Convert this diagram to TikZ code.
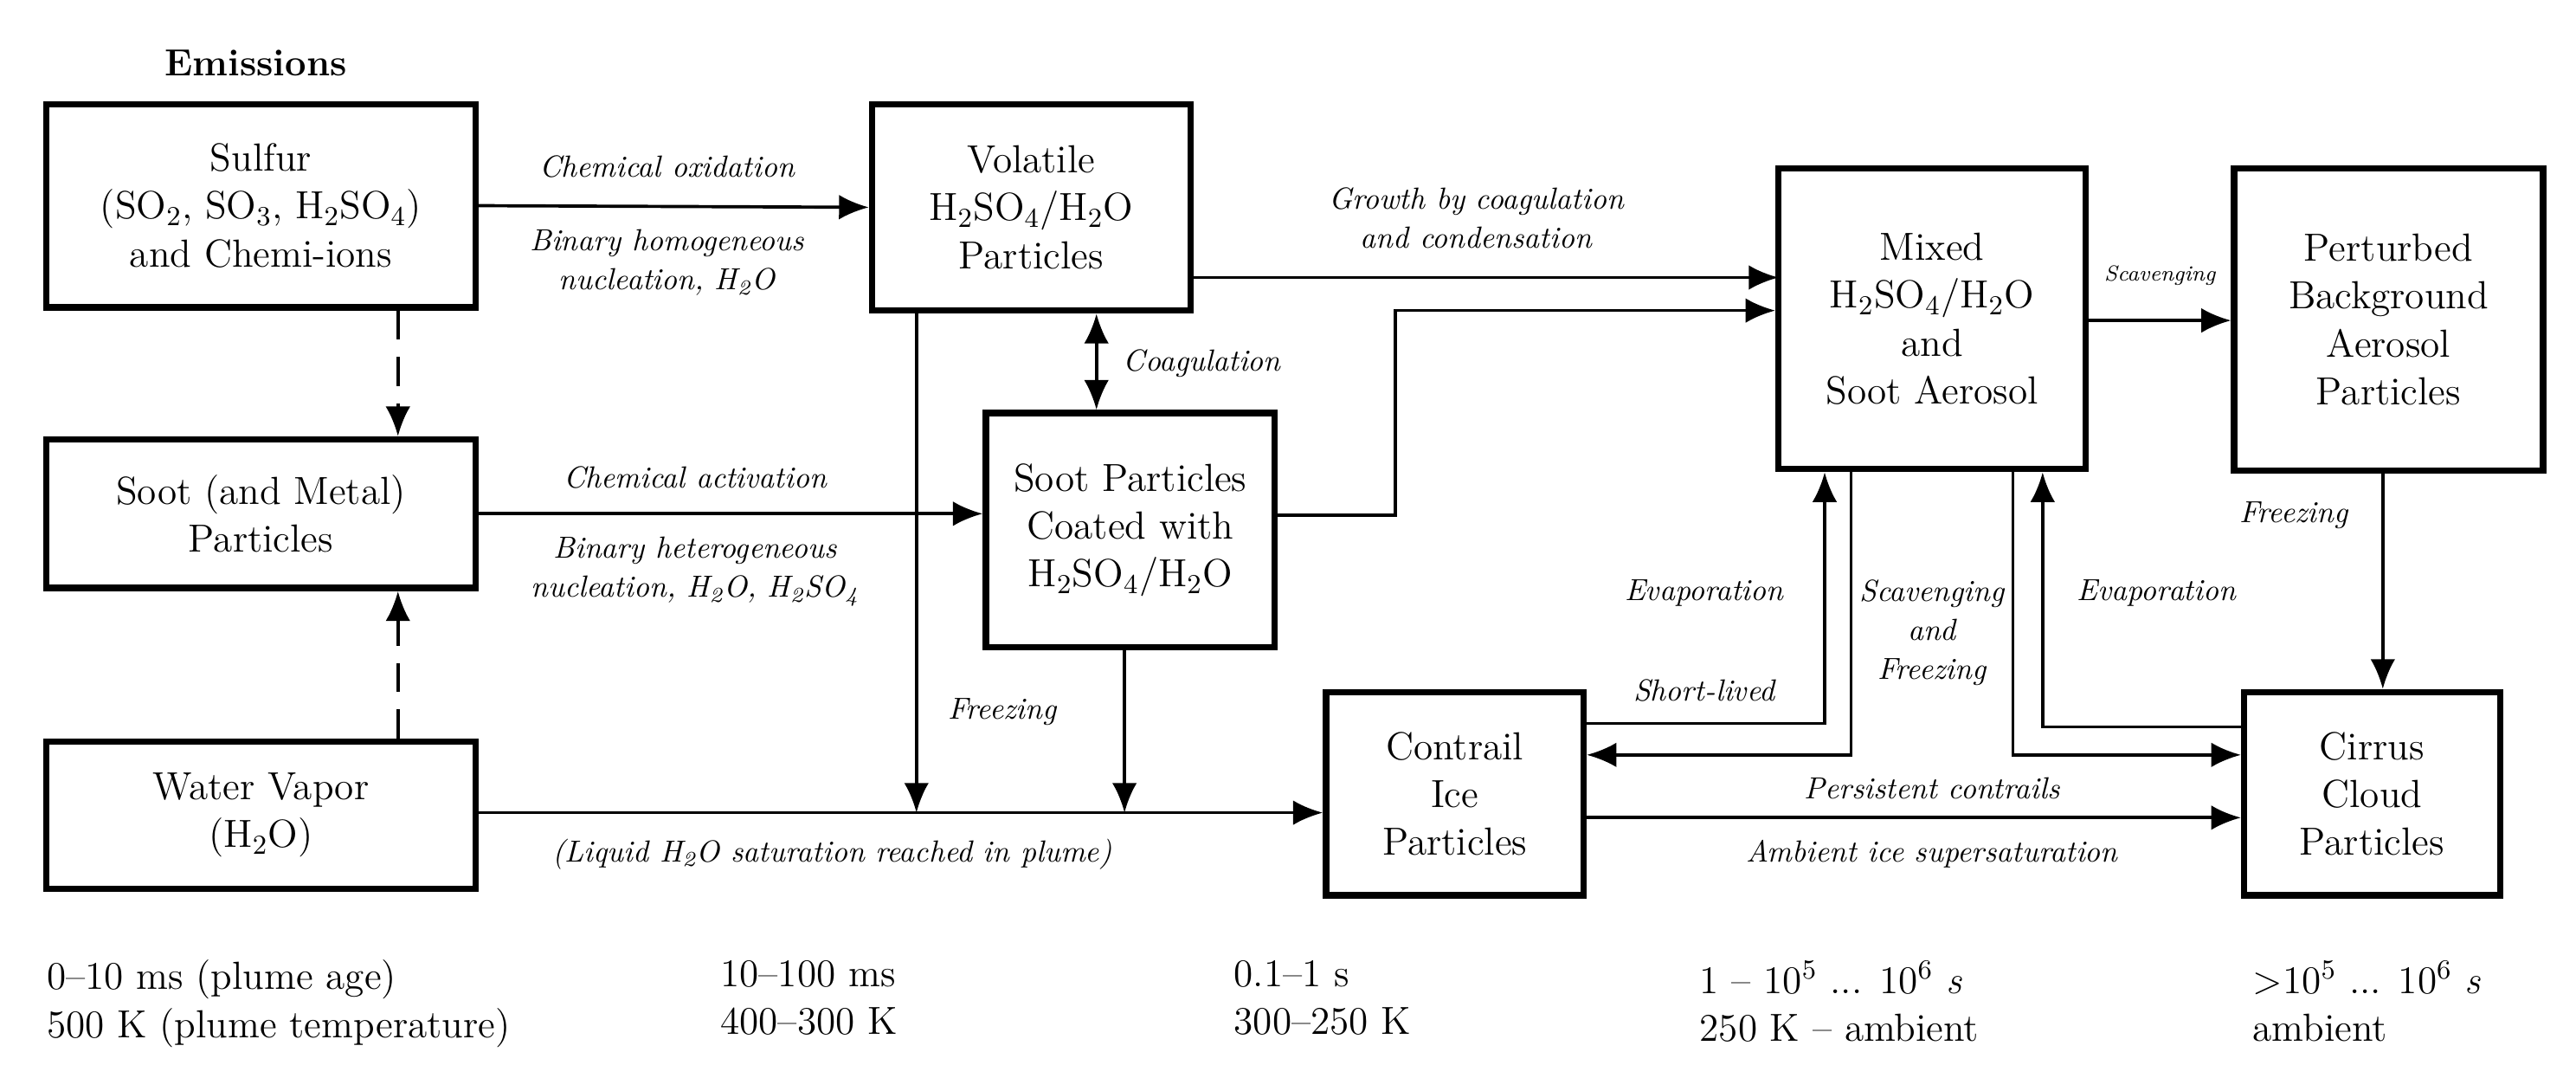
\documentclass[tikz,border=0pt]{standalone}
\usetikzlibrary{arrows.meta,calc}
\newcommand{\subs}[1]{\textsubscript{#1}}
\begin{document}
\begin{tikzpicture}[x=0.02cm,y=-0.02cm,
 box/.style={draw,line width=2.2pt,align=center,font=\fontsize{13.5}{16.5}\selectfont,inner sep=0pt},
 ln/.style={line width=1.1pt},
 arr/.style={ln,-{Latex[length=0.36cm,width=0.3cm]}},
 lab/.style={font=\fontsize{10.5}{13.5}\selectfont\itshape,align=center,inner sep=0pt},
 bot/.style={font=\fontsize{13.5}{16.5}\selectfont,align=left,anchor=north west,inner sep=0pt}]
\useasboundingbox (0,0) rectangle (1560,660);
\node[font=\fontsize{13}{15}\selectfont\bfseries] (em) at (155,38) {Emissions};
\node[box,minimum width=5.2cm,minimum height=2.46cm] (sulfur) at (158,124.5) {Sulfur\\(SO\subs{2}, SO\subs{3}, H\subs{2}SO\subs{4})\\and Chemi-ions};
\node[box,minimum width=3.86cm,minimum height=2.5cm] (vol) at (624.5,125.5) {Volatile\\H\subs{2}SO\subs{4}/H\subs{2}O\\Particles};
\node[box,minimum width=5.2cm,minimum height=1.8cm] (soot) at (158,311) {Soot (and Metal)\\Particles};
\node[box,minimum width=3.5cm,minimum height=2.84cm] (coat) at (684.5,321) {Soot Particles\\Coated with\\H\subs{2}SO\subs{4}/H\subs{2}O};
\node[box,minimum width=5.2cm,minimum height=1.78cm] (water) at (158,493.5) {Water Vapor\\(H\subs{2}O)};
\node[box,minimum width=3.72cm,minimum height=3.64cm] (mixed) at (1170,193) {Mixed\\H\subs{2}SO\subs{4}/H\subs{2}O\\and\\Soot Aerosol};
\node[box,minimum width=3.74cm,minimum height=3.66cm] (pert) at (1446.5,193.5) {Perturbed\\Background\\Aerosol\\Particles};
\node[box,minimum width=3.12cm,minimum height=2.46cm] (cont) at (881,480.5) {Contrail\\Ice\\Particles};
\node[box,minimum width=3.1cm,minimum height=2.46cm] (cirr) at (1436.5,480.5) {Cirrus\\Cloud\\Particles};
% dashed
\coordinate (dx) at (241,0);
\draw[arr,dash pattern=on 10pt off 6pt] (sulfur.south -| dx) -- (soot.north -| dx);
\draw[arr,dash pattern=on 10pt off 6pt] (water.north -| dx) -- (soot.south -| dx);
% horizontal
\draw[arr] (sulfur.east) -- (vol.west);
\node[lab] (l1) at (404,101) {Chemical oxidation};
\node[lab] (l2) at (404,159) {Binary homogeneous\\nucleation, H\subs{2}O};
\draw[arr] (soot.east) -- (soot.east -| coat.west);
\node[lab] (l3) at (421,289) {Chemical activation};
\node[lab] (l4) at (421,346) {Binary heterogeneous\\nucleation, H\subs{2}O, H\subs{2}SO\subs{4}};
\coordinate (pa) at (555,492);
\coordinate (pb) at (681,492);
\draw[arr] (water.east |- pa) -- (pa -| cont.west);
\draw[arr] (vol.south -| pa) -- (pa);
\draw[arr] (coat.south -| pb) -- (pb);
\node[lab] (fr1) at (607,431) {Freezing};
\node[lab] (liq) at (504,517) {(Liquid H\subs{2}O saturation reached in plume)};
\coordinate (cg) at (664,0);
\draw[ln,{Latex[length=0.36cm,width=0.3cm]}-{Latex[length=0.36cm,width=0.3cm]}] (vol.south -| cg) -- (coat.north -| cg);
\node[lab,anchor=west] (coag) at (680,220) {Coagulation};
% to mixed
\coordinate (va) at (1077,168);
\draw[arr] (vol.east |- va) -- (va);
\coordinate (ca) at (845,312);
\coordinate (cb) at (845,188);
\draw[arr] (coat.east |- ca) -- (ca) -- (cb) -- (cb -| mixed.west);
\node[lab] (gr) at (894,132) {Growth by coagulation\\and condensation};
% mixed to perturbed
\draw[arr] (mixed.east |- 0,194) -- (pert.west |- 0,194);
\node[lab,font=\fontsize{7.5}{9}\selectfont\itshape] (sc) at (1308,167) {Scavenging};
\draw[arr] (pert.south -| 1443,0) -- (cirr.north -| 1443,0);
\node[lab] (fr2) at (1389,312) {Freezing};
% evaporation / scavenging loops
\coordinate (e1) at (1105,438);
\draw[arr] (cont.east |- e1) -- (e1) -- (e1 |- mixed.south);
\node[lab] (ev1) at (1032,359) {Evaporation};
\node[lab] (sl) at (1032,418) {Short-lived};
\coordinate (s1) at (1121,457);
\draw[arr] (s1 |- mixed.south) -- (s1) -- (s1 -| cont.east);
\node[lab] (sf) at (1170,383) {Scavenging\\and\\Freezing};
\coordinate (s2) at (1219,457);
\draw[arr] (s2 |- mixed.south) -- (s2) -- (s2 -| cirr.west);
\coordinate (e2) at (1237,440);
\draw[arr] (e2 -| cirr.west) -- (e2) -- (e2 |- mixed.south);
\node[lab] (ev2) at (1306,359) {Evaporation};
\draw[arr] (cont.east |- 0,495) -- (cirr.west |- 0,495);
\node[lab] (pc) at (1170,477) {Persistent contrails};
\node[lab] (ai) at (1170,517) {Ambient ice supersaturation};
% bottom
\node[bot] (t1) at (28,581) {0--10 ms (plume age)\\500 K (plume temperature)};
\node[bot] (t2) at (436,581) {10--100 ms\\400--300 K};
\node[bot] (t3) at (747,581) {0.1--1 s\\300--250 K};
\node[bot] (t4) at (1029,581) {1 -- 10\textsuperscript{5} ... 10\textsuperscript{6} \textit{s}\\250 K -- ambient};
\node[bot] (t5) at (1364,581) {>10\textsuperscript{5} ... 10\textsuperscript{6} \textit{s}\\ambient};
\end{tikzpicture}
\end{document}
